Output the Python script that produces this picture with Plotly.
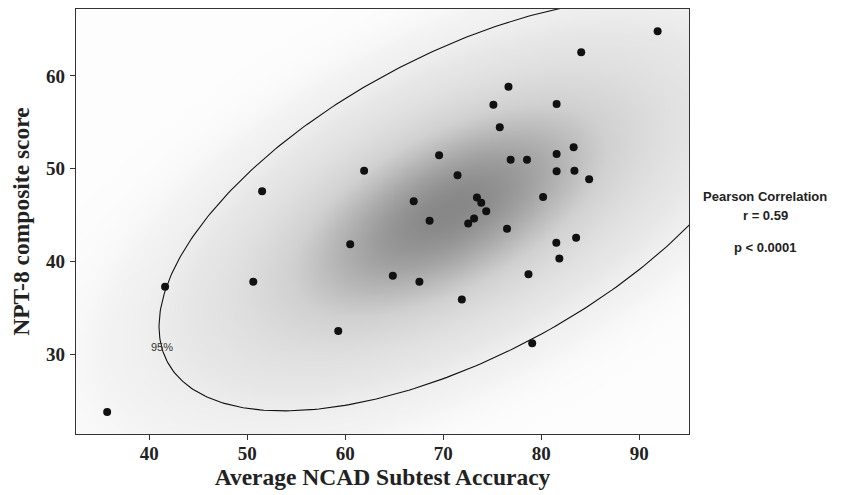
import numpy as np
import plotly.graph_objects as go

# Data
ncad = [91.87, 84.07, 76.65, 75.11, 81.56, 75.76, 83.30, 69.57, 81.56, 76.87,
        78.54, 81.56, 83.38, 84.88, 71.45, 66.98, 73.43, 73.87, 80.18, 74.38,
        68.60, 73.14, 72.54, 76.50, 81.53, 83.55, 81.84, 78.69, 67.56, 71.89,
        79.07, 51.51, 61.92, 60.50, 41.61, 50.61, 64.85, 59.28, 35.70]
npt8 = [64.82, 62.55, 58.85, 56.91, 56.98, 54.47, 52.31, 51.45, 51.59, 50.98,
        50.98, 49.73, 49.79, 48.88, 49.30, 46.49, 46.90, 46.34, 46.96, 45.42,
        44.40, 44.64, 44.10, 43.54, 42.02, 42.57, 40.33, 38.62, 37.83, 35.91,
        31.19, 47.57, 49.79, 41.86, 37.29, 37.83, 38.46, 32.51, 23.78]

x_ticks = [40, 50, 60, 70, 80, 90]
y_ticks = [30, 40, 50, 60]
x_range = [32.52, 95.07]
y_range = [21.41, 67.22]
stats_lines = ["Pearson Correlation", "r = 0.59", "p < 0.0001"]
contour_label = "95%"

# Bivariate-normal density ellipse parameters
ell_center = [71.98, 46.1]
ell_sd = [12.66, 9.07]
ell_r = 0.59
chi2_95 = 5.991
shade_center = [70.6, 45.5]

mu = np.array(ell_center)
cov = np.array([[ell_sd[0] ** 2, ell_r * ell_sd[0] * ell_sd[1]],
                [ell_r * ell_sd[0] * ell_sd[1], ell_sd[1] ** 2]])
inv = np.linalg.inv(cov)

# density shading
gx = np.linspace(x_range[0] - 0.5, x_range[1] + 0.5, 170)
gy = np.linspace(y_range[0] - 0.5, y_range[1] + 0.5, 130)
GX, GY = np.meshgrid(gx, gy)
dx = GX - shade_center[0]
dy = GY - shade_center[1]
d2 = inv[0, 0] * dx * dx + 2 * inv[0, 1] * dx * dy + inv[1, 1] * dy * dy
Z = np.round(np.exp(-d2 / 2), 4)

# 95% ellipse
vals, vecs = np.linalg.eigh(cov)
t = np.linspace(0, 2 * np.pi, 400)
circ = np.vstack([np.cos(t), np.sin(t)])
pts = vecs @ np.diag(np.sqrt(vals * chi2_95)) @ circ
ex = pts[0] + mu[0]
ey = pts[1] + mu[1]

fig = go.Figure()
fig.add_trace(go.Heatmap(
    x=gx, y=gy, z=Z, zmin=0, zmax=1, zsmooth="best", showscale=False,
    hoverinfo="skip",
    colorscale=[[0.0, "#fdfdfd"], [0.02, "#f3f3f3"], [0.1, "#e7e7e7"],
                [0.45, "#d0d0d0"], [0.6, "#bdbdbd"], [0.8, "#a2a2a2"],
                [1.0, "#878787"]],
))
fig.add_trace(go.Scatter(x=ex, y=ey, mode="lines",
                         line=dict(color="#111111", width=1.1),
                         hoverinfo="skip", showlegend=False))
fig.add_trace(go.Scatter(x=ncad, y=npt8, mode="markers",
                         marker=dict(color="#111111", size=8),
                         showlegend=False))

fig.add_annotation(x=41.3, y=30.8, xref="x", yref="y", text=contour_label,
                   showarrow=False,
                   font=dict(family="Liberation Sans", size=11, color="#333333"))

for txt, py in zip(stats_lines, [0.558, 0.515, 0.438]):
    fig.add_annotation(x=1.124, y=py, xref="paper", yref="paper",
                       text="<b>" + txt + "</b>",
                       showarrow=False, xanchor="center", yanchor="middle",
                       font=dict(family="Liberation Sans", size=13,
                                 color="#222222"))

axis_common = dict(
    showline=True, mirror=True, linecolor="#333333", linewidth=1.2,
    ticks="outside", ticklen=5, tickwidth=1, tickcolor="#333333",
    showgrid=False, zeroline=False, automargin=False,
    tickfont=dict(family="Liberation Serif", size=19, color="#222222"),
)
title_font = dict(family="Liberation Serif", size=23.5, color="#222222")

# the page body adds an 8px offset; the figure is sized to fit the window
fig.update_layout(
    width=841, height=487,
    margin=dict(l=68, r=160, t=1, b=61),
    paper_bgcolor="white", plot_bgcolor="white",
    xaxis=dict(range=x_range, tickvals=x_ticks,
               ticktext=["<b>%d</b>" % v for v in x_ticks],
               ticklabelstandoff=-3,
               title=dict(text="<b>Average NCAD Subtest Accuracy</b>",
                          font=title_font, standoff=0),
               **axis_common),
    yaxis=dict(range=y_range, tickvals=y_ticks,
               ticktext=["<b>%d</b>" % v for v in y_ticks],
               ticklabelstandoff=1,
               title=dict(text="<b>NPT-8 composite score</b>",
                          font=title_font, standoff=18),
               **axis_common),
)

fig.write_html("out.html")
